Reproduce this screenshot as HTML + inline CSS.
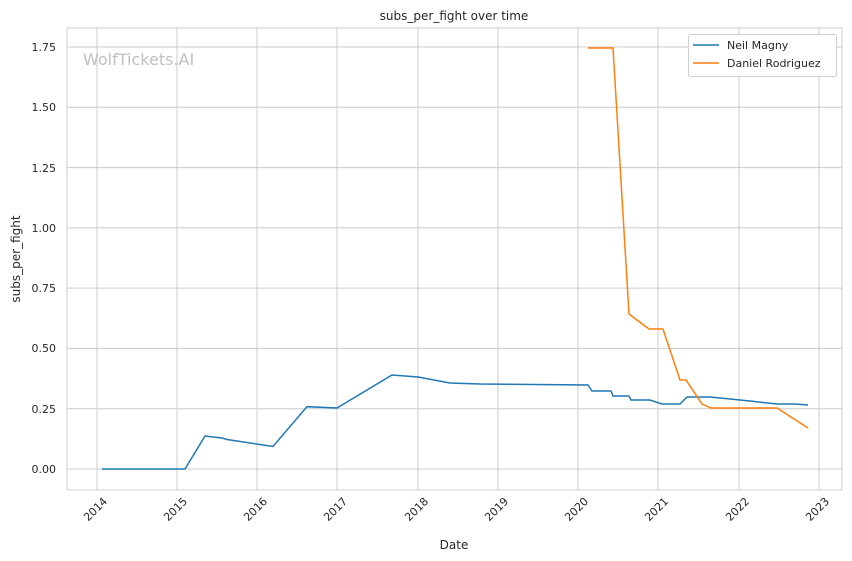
<!DOCTYPE html>
<html><head><meta charset="utf-8"><style>body{margin:0;background:#fff}svg{display:block}text{font-family:"DejaVu Sans","Liberation Sans",sans-serif;fill:#262626}</style></head><body>
<svg width="852" height="561" viewBox="0 0 852 561">
<rect width="852" height="561" fill="#fff"/>
<g stroke="#cccccc" stroke-width="1">
<line x1="97" y1="28" x2="97" y2="490"/><line x1="177" y1="28" x2="177" y2="490"/><line x1="257" y1="28" x2="257" y2="490"/><line x1="337" y1="28" x2="337" y2="490"/><line x1="418" y1="28" x2="418" y2="490"/><line x1="498" y1="28" x2="498" y2="490"/><line x1="578" y1="28" x2="578" y2="490"/><line x1="658" y1="28" x2="658" y2="490"/><line x1="739" y1="28" x2="739" y2="490"/><line x1="819" y1="28" x2="819" y2="490"/>
<line x1="67" y1="469" x2="842" y2="469"/><line x1="67" y1="408.7" x2="842" y2="408.7"/><line x1="67" y1="348.4" x2="842" y2="348.4"/><line x1="67" y1="288.1" x2="842" y2="288.1"/><line x1="67" y1="227.9" x2="842" y2="227.9"/><line x1="67" y1="167.6" x2="842" y2="167.6"/><line x1="67" y1="107.3" x2="842" y2="107.3"/><line x1="67" y1="47" x2="842" y2="47"/>
<rect x="67" y="28" width="775" height="462" fill="none"/>
</g>
<text x="83" y="65" font-size="16" style="fill:#c0c0c0">WolfTickets.AI</text>
<polyline fill="none" stroke="#1f77b4" stroke-width="1.5" points="102,469 185,469 205,436 222,438 227,439.5 273,446.5 307,406.7 337,408 392,375 418,377 450,383 480,384 588,385 592,391 611,391 613,396 629,396 631,400 650,400 662,404 680,404 687,397 710,397 750,401 777,404 795,404 808,405"/>
<polyline fill="none" stroke="#ff7f0e" stroke-width="1.5" points="588,48 613,48 629,314 649,329 663,329 680,380 686,380 702,404 711,408 777,408 808,428"/>
<g font-size="11" text-anchor="end">
<text x="56" y="473">0.00</text><text x="56" y="413">0.25</text><text x="56" y="352">0.50</text><text x="56" y="292">0.75</text><text x="56" y="232">1.00</text><text x="56" y="172">1.25</text><text x="56" y="111">1.50</text><text x="56" y="51">1.75</text>
</g>
<g font-size="11" text-anchor="end">
<text transform="translate(108,502) rotate(-45)">2014</text><text transform="translate(188,502) rotate(-45)">2015</text><text transform="translate(268,502) rotate(-45)">2016</text><text transform="translate(348,502) rotate(-45)">2017</text><text transform="translate(429,502) rotate(-45)">2018</text><text transform="translate(509,502) rotate(-45)">2019</text><text transform="translate(589,502) rotate(-45)">2020</text><text transform="translate(669,502) rotate(-45)">2021</text><text transform="translate(750,502) rotate(-45)">2022</text><text transform="translate(830,502) rotate(-45)">2023</text>
</g>
<text x="454" y="549" font-size="12" text-anchor="middle">Date</text>
<text transform="translate(20,259) rotate(-90)" font-size="12" text-anchor="middle">subs_per_fight</text>
<text x="454" y="20" font-size="12" text-anchor="middle">subs_per_fight over time</text>
<rect x="688.5" y="34.5" width="148" height="42" rx="2" fill="#fff" stroke="#d0d0d0"/>
<line x1="693" y1="45" x2="719" y2="45" stroke="#1f77b4" stroke-width="1.5"/>
<line x1="693" y1="63" x2="719" y2="63" stroke="#ff7f0e" stroke-width="1.5"/>
<text x="727" y="49" font-size="11">Neil Magny</text>
<text x="727" y="67" font-size="11">Daniel Rodriguez</text>
</svg>
</body></html>
